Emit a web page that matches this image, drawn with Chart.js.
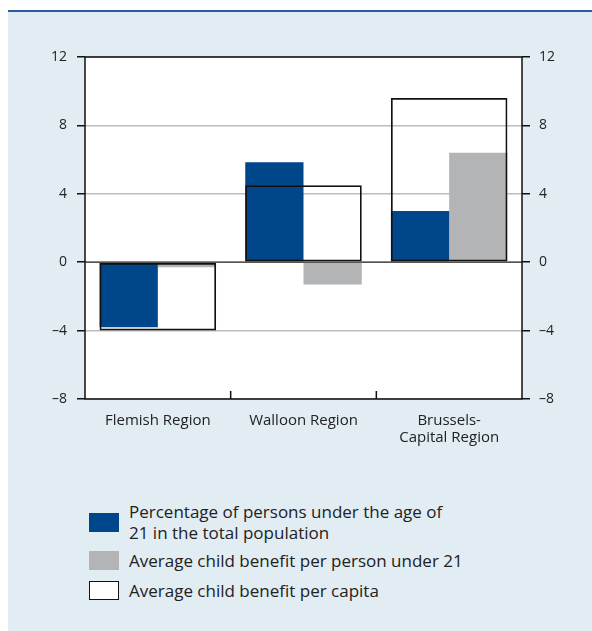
<!DOCTYPE html>
<html>
<head>
<meta charset="utf-8">
<script src="https://cdn.jsdelivr.net/npm/chart.js@4.4.1/dist/chart.umd.min.js"></script>
<style>
    body { margin: 0; background: #fff; font-family: "Open Sans", sans-serif; color: #222; }
    #panel { position: absolute; left: 8px; top: 10px; width: 584px; height: 619px;
             background: #e1ecf3; border-top: 2px solid #2d5c9c; }
    #chartBox { position: absolute; left: 0; top: 0; }
    .item { position: absolute; left: 89px; display: flex; align-items: center;
            font-size: 17px; line-height: 21px; }
    .swatch { width: 30px; height: 19px; margin-right: 10px; box-sizing: border-box; flex: none; }
</style>
</head>
<body>
<div id="panel"></div>
<div id="chartBox"><canvas id="benefitChart" width="592" height="470"></canvas></div>
<div class="item" style="top:501px"><div class="swatch" style="background:#00468b"></div><div>Percentage of persons under the age of<br>21 in the total population</div></div>
<div class="item" style="top:550px"><div class="swatch" style="background:#b3b4b6"></div><div>Average child benefit per person under 21</div></div>
<div class="item" style="top:580px"><div class="swatch" style="background:#fff;border:1.5px solid #111"></div><div>Average child benefit per capita</div></div>

<script>
const regions = ['Flemish Region', 'Walloon Region', ['Brussels-', 'Capital Region']];
const shareUnder21 = [-3.8, 5.85, 3.0];
const benefitPerChild = [-0.3, -1.3, 6.4];
const benefitPerCapita = [-4.0, 4.5, 9.6];
const yTicks = [-8, -4, 0, 4, 8, 12];

document.addEventListener('DOMContentLoaded', function () {
    Chart.defaults.font.family = '"Open Sans", sans-serif';
    const dash = v => (v < 0 ? '\u2013' + Math.abs(v) : String(v));

    // white plot area, frame, zero line and small ticks between regions
    const frame = {
        id: 'frame',
        beforeDraw(chart) {
            const a = chart.chartArea, c = chart.ctx;
            c.save();
            c.fillStyle = '#fff';
            c.fillRect(a.left, a.top, a.right - a.left, a.bottom - a.top);
            c.restore();
        },
        afterDatasetsDraw(chart) {
            const a = chart.chartArea, c = chart.ctx;
            const y0 = chart.scales.y.getPixelForValue(0);
            const xs = chart.scales.x;
            c.save();
            c.lineWidth = 1.5;
            c.strokeStyle = '#555';
            c.beginPath();
            c.moveTo(a.left, y0);
            c.lineTo(a.right, y0);
            c.stroke();
            c.strokeStyle = '#111';
            c.beginPath();
            for (let i = 1; i < regions.length; i++) {
                const x = (xs.getPixelForValue(i - 1) + xs.getPixelForValue(i)) / 2;
                c.moveTo(x, a.bottom);
                c.lineTo(x, a.bottom - 8);
            }
            c.stroke();
            c.strokeRect(a.left, a.top, a.right - a.left, a.bottom - a.top);
            c.restore();
        }
    };

    const yAxis = (pos, w, pad) => ({
        position: pos,
        min: -8,
        max: 12,
        afterBuildTicks: s => { s.ticks = yTicks.map(v => ({ value: v })); },
        afterFit: s => { s.width = w; },
        ticks: { padding: pad, color: '#222', font: { size: 14 }, callback: v => dash(v) },
        grid: {
            drawOnChartArea: pos === 'left',
            color: '#bcbcbc',
            lineWidth: 1.5,
            tickLength: 8,
            tickColor: '#111',
            tickWidth: 1.5
        },
        border: { display: false }
    });

    new Chart(document.getElementById('benefitChart'), {
        type: 'bar',
        data: {
            labels: regions,
            datasets: [
                { label: 'Percentage of persons under the age of 21 in the total population',
                  data: shareUnder21, backgroundColor: '#00468b', order: 1 },
                { label: 'Average child benefit per person under 21',
                  data: benefitPerChild, backgroundColor: '#b3b4b6', order: 1 },
                { label: 'Average child benefit per capita',
                  data: benefitPerCapita, grouped: false, order: 0,
                  backgroundColor: 'rgba(0,0,0,0)', borderColor: '#111',
                  borderWidth: 1.75, borderSkipped: false }
            ]
        },
        options: {
            responsive: false,
            animation: false,
            layout: { padding: { top: 57, left: 0, right: 0, bottom: 0 } },
            categoryPercentage: 0.8,
            barPercentage: 1.0,
            plugins: { legend: { display: false }, tooltip: { enabled: false } },
            scales: {
                x: {
                    afterFit: s => { s.height = 71; },
                    grid: { display: false },
                    border: { display: false },
                    ticks: { padding: 5, color: '#222', font: { size: 15, lineHeight: 1.14 } }
                },
                y: yAxis('left', 85, 10),
                yRight: yAxis('right', 70, 9)
            }
        },
        plugins: [frame]
    });
});
</script>
</body>
</html>
